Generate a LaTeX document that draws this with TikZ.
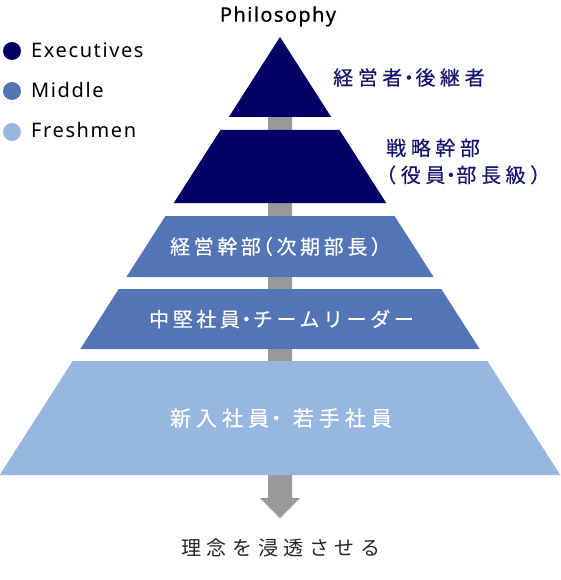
\documentclass[tikz,border=0pt]{standalone}
\usepackage{fontspec}
\setmainfont{Noto Sans}[LetterSpace=8]
\newfontfamily\jpfont{Noto Sans CJK JP}[LetterSpace=18,FakeBold=0.4]
\newfontfamily\jplight{Noto Sans CJK JP}[LetterSpace=28]
\newfontfamily\headfont{Noto Sans}[LetterSpace=7,FakeBold=0.5]

\definecolor{execblue}{HTML}{000066}
\definecolor{midblue}{HTML}{5475B5}
\definecolor{freshblue}{HTML}{97B7E0}
\definecolor{labelnavy}{HTML}{16166E}
\definecolor{arrowgray}{HTML}{999999}

% narrow middle dot and brackets
\newcommand{\jdot}{\hspace{-3.5pt}・\hspace{-3.5pt}}
\newcommand{\jlp}{\hspace{-8pt}（}
\newcommand{\jrp}{）}

\tikzset{
  legdot/.style={circle, inner sep=0pt, minimum size=18pt},
  legtext/.style={anchor=base west, inner sep=0pt, font=\fontsize{20}{24}\selectfont},
  tiertext/.style={inner sep=0pt, text=white, font=\jpfont\fontsize{20}{24}\selectfont},
  sidetext/.style={inner sep=0pt, anchor=west, align=left, text=labelnavy,
    font=\jpfont\fontsize{20}{27}\selectfont\addfontfeature{LetterSpace=23}}
}

\begin{document}
\begin{tikzpicture}[x=1pt, y=-1pt]
            \useasboundingbox (0,0) rectangle (560,580);
            % arrow behind the pyramid
            \fill[arrowgray] (268,110) -- (292,110) -- (292,498) -- (300,498) -- (280,518) -- (260,498) -- (268,498) -- cycle;
            % pyramid tiers
            \foreach \ytop/\ybot/\col in {37/117/execblue, 130/203/execblue, 216/277/midblue, 289/349/midblue, 361/475/freshblue}
                \fill[\col] ({280-0.64*(\ytop-37)},\ytop) -- ({280+0.64*(\ytop-37)},\ytop) -- ({280+0.64*(\ybot-37)},\ybot) -- ({280-0.64*(\ybot-37)},\ybot) -- cycle;

            \node[anchor=base, inner sep=0pt, font=\headfont\fontsize{20}{24}\selectfont] (philo) at (278,21.7) {Philosophy};

            % legend
            \node[legdot, fill=execblue] (legexec) at (12,51) {};
            \node[legdot, fill=midblue] (legmid) at (12,91) {};
            \node[legdot, fill=freshblue] (legfresh) at (12,132) {};
            \node[legtext] (txtexec) at (31,57.5) {Executives};
            \node[legtext] (txtmid) at (31,97.2) {Middle};
            \node[legtext] (txtfresh) at (31,138) {Freshmen};

            % labels beside the top tiers
            \node[sidetext] (lblsuccess) at (333,77.5) {経営者\jdot 後継者};
            \node[sidetext] (lblstrategy) at (386,161.5) {戦略幹部\\\hspace{-10pt}（役員\hspace{-4.5pt}・\hspace{-4.5pt}部長級\jrp};

            % labels inside the lower tiers
            \node[tiertext] (lblmanager) at (280.5,246.5) {経営幹部\jlp 次期部長\jrp};
            \node[tiertext] (lblleader) at (281.5,319) {中堅社員\jdot チームリーダー};
            \node[tiertext, font=\jpfont\fontsize{21}{24}\selectfont\addfontfeature{LetterSpace=24}] (lblfresh) at (281,418) {新入社員\jdot\ 若手社員};

            \node[inner sep=0pt, text=black!85, font=\jplight\fontsize{20}{24}\selectfont] (lblgoal) at (281,548) {理念を浸透させる};
        \end{tikzpicture}
\end{document}
